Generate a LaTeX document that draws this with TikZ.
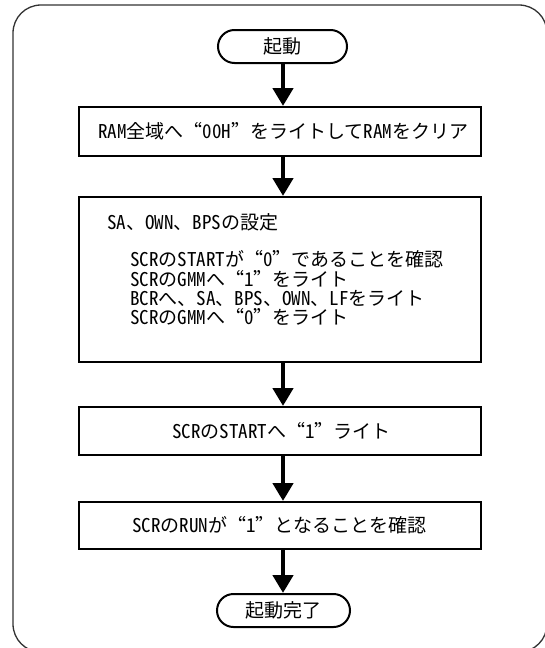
\documentclass[tikz,border=0pt]{standalone}
\usepackage{fontspec}
\setmainfont{Noto Sans CJK JP}
\newfontfamily\hwfont{Noto Sans CJK JP}[CharacterWidth=Half]
\newfontfamily\fwfont{Noto Sans CJK JP}[CharacterWidth=Full]
\newcommand{\hf}[1]{{\hwfont #1}}
\newcommand{\jlq}{{\fwfont “}}
\newcommand{\jrq}{{\fwfont ”}}
\usetikzlibrary{arrows.meta,shapes.misc}
\begin{document}
\begin{tikzpicture}[x=1pt,y=-1pt,
  every node/.style={font=\fontsize{19}{19.5}\selectfont, inner sep=0pt},
  procbox/.style={draw, line width=2pt, rectangle, minimum width=402pt},
  termbox/.style={draw, line width=2pt, rounded rectangle, minimum height=33pt},
  flowarrow/.style={line width=4.5pt, -{Triangle[length=18pt,width=20pt]}},
  linetext/.style={anchor=west}
]
\useasboundingbox (0,0) rectangle (544,648);
\draw[line width=1.3pt, black!80, rounded corners=28pt] (13,5) rectangle (547,652);

\coordinate (ax) at (283,0);

\node[termbox, minimum width=129pt] (start) at (282.5,46.5) {起動};

\node[procbox, minimum height=49pt] (b1) at (280,131.5) {};
\node[linetext] (t1) at (98,131.5) {\hf{RAM}全域へ\jlq\hf{00H}\jrq をライトして\hf{RAM}をクリア};

\node[procbox, minimum height=165pt] (b2) at (280,279.5) {};
\node[linetext] (l1) at (107,222) {\hf{SA}、\hf{OWN}、\hf{BPS}の設定};
\node[linetext] (l2) at (130,259) {\hf{SCR}の\hf{START}が\jlq\hf{0}\jrq であることを確認};
\node[linetext] (l3) at (130,279) {\hf{SCR}の\hf{GMM}へ\jlq\hf{1}\jrq をライト};
\node[linetext] (l4) at (130,298) {\hf{BCR}へ、\hf{SA}、\hf{BPS}、\hf{OWN}、\hf{LF}をライト};
\node[linetext] (l5) at (130,317) {\hf{SCR}の\hf{GMM}へ\jlq\hf{0}\jrq をライト};

\node[procbox, minimum height=48pt] (b3) at (280,431) {};
\node[linetext] (t3) at (172,431) {\hf{SCR}の\hf{START}へ\jlq\hf{1}\jrq ライト};

\node[procbox, minimum height=47pt] (b4) at (280,525.5) {};
\node[linetext] (t4) at (132,525.5) {\hf{SCR}の\hf{RUN}が\jlq\hf{1}\jrq となることを確認};

\node[termbox, minimum width=133pt] (end) at (283.5,610.5) {起動完了};

\draw[flowarrow] (start.south -| ax) -- (b1.north -| ax);
\draw[flowarrow] (b1.south -| ax) -- (b2.north -| ax);
\draw[flowarrow] (b2.south -| ax) -- (b3.north -| ax);
\draw[flowarrow] (b3.south -| ax) -- (b4.north -| ax);
\draw[flowarrow] (b4.south -| ax) -- (end.north -| ax);
\end{tikzpicture}
\end{document}
